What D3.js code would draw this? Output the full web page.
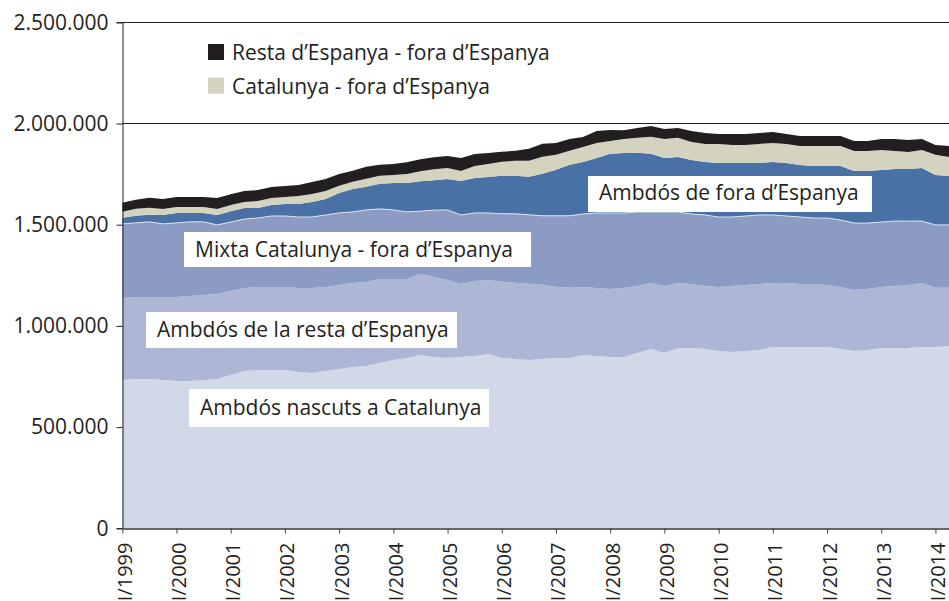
<!DOCTYPE html>
<html>
<head>
<meta charset="utf-8">
<script src="https://cdn.jsdelivr.net/npm/d3@7"></script>
<style>
  body { margin: 0; background: #fff; }
  text { font-family: "Open Sans", sans-serif; fill: #231f20; }
</style>
</head>
<body>
<div id="chart"></div>
<script>
// parelles, en milers, per trimestre (I/1999 - II/2014)
const years = d3.range(1999, 2015);
const quarters = years.flatMap(y => ["I", "II", "III", "IV"].map(q => `${q}/${y}`)).slice(0, 62);
const tickLabels = years.map(y => `I/${y}`);

const keys = ["nascuts", "resta", "mixta", "fora", "catFora", "restaFora"];

const nascuts = [733,738,738,733,728,728,733,738,757,777,782,782,782,772,767,777,787,797,802,817,832,842,856,846,842,846,851,861,842,837,832,837,842,842,856,851,846,846,866,886,866,891,891,886,876,871,876,881,896,896,896,896,896,886,876,881,891,891,891,896,896,901];
const resta = [405,405,405,410,415,420,420,420,415,410,410,410,410,415,420,415,415,415,415,415,400,390,400,395,385,361,371,366,376,376,376,366,351,346,336,336,336,341,331,326,331,321,316,311,316,326,326,326,316,316,311,311,306,306,301,301,301,306,311,316,292,287];
const mixta = [366,366,371,361,366,366,361,341,341,341,341,351,351,351,351,356,356,351,356,346,341,331,311,331,346,341,336,331,336,341,341,341,351,356,361,371,376,371,366,351,366,351,346,351,346,341,341,341,336,331,331,326,331,331,331,326,321,321,316,306,311,311];
const fora = [30,35,35,44,49,44,44,49,54,54,49,54,59,64,74,79,99,114,114,124,133,143,148,148,153,168,173,178,188,188,188,208,227,252,257,272,292,296,292,287,267,272,267,262,267,267,262,257,262,262,257,257,257,267,257,257,257,257,257,262,247,242];
const catFora = [30,35,35,30,30,30,30,30,30,30,35,35,35,40,40,40,35,35,40,40,40,44,49,54,54,49,59,64,69,74,79,84,74,69,74,74,64,69,74,84,94,94,89,89,94,89,89,94,94,94,94,99,99,99,99,99,99,89,84,89,99,94];
const restaFora = [44,44,49,49,49,49,49,54,54,54,54,54,54,54,59,59,59,54,59,54,54,59,59,59,59,64,59,54,49,49,59,64,59,59,49,59,54,44,49,54,49,49,54,54,49,54,54,54,54,49,49,49,49,49,49,49,54,59,59,54,49,54];

const colors = {
  nascuts: "#d1d8e7",
  resta: "#adb7d5",
  mixta: "#8b9bc4",
  fora: "#4a71a5",
  catFora: "#d3d3bf",
  restaFora: "#231f20"
};

const legendItems = [
  { key: "restaFora", label: "Resta d’Espanya - fora d’Espanya" },
  { key: "catFora", label: "Catalunya - fora d’Espanya" }
];

const areaLabels = [
  { text: "Ambdós de fora d’Espanya", x: 599, y: 200, box: [588, 176, 284, 36] },
  { text: "Mixta Catalunya - fora d’Espanya", x: 195, y: 257, box: [184, 232, 347, 35] },
  { text: "Ambdós de la resta d’Espanya", x: 157, y: 337, box: [146, 312, 311, 36] },
  { text: "Ambdós nascuts a Catalunya", x: 200, y: 415, box: [189, 389, 300, 38] }
];

const rows = quarters.map((q, i) => ({
  q,
  nascuts: nascuts[i], resta: resta[i], mixta: mixta[i],
  fora: fora[i], catFora: catFora[i], restaFora: restaFora[i]
}));

const width = 949, height = 601;
const svg = d3.select("#chart").append("svg")
  .attr("width", width)
  .attr("height", height);

const x = d3.scalePoint()
  .domain(quarters)
  .range([122.3, 949]);

const y = d3.scaleLinear()
  .domain([0, 2500])
  .range([528.3, 22.3]);

const fmt = d3.formatLocale({ decimal: ",", thousands: ".", grouping: [3], currency: ["", "€"] }).format(",");

// gridlines
svg.append("g")
  .selectAll("line")
  .data(y.ticks(5))
  .enter()
  .append("line")
  .attr("x1", 122.3)
  .attr("x2", width)
  .attr("y1", d => Math.round(y(d)) + 0.5)
  .attr("y2", d => Math.round(y(d)) + 0.5)
  .attr("stroke", "#231f20")
  .attr("stroke-width", 1);

const series = d3.stack().keys(keys)(rows);

const area = d3.area()
  .x(d => x(d.data.q))
  .y0(d => y(d[0]))
  .y1(d => y(d[1]));

svg.append("g")
  .selectAll("path")
  .data(series)
  .enter()
  .append("path")
  .attr("d", area)
  .attr("fill", d => colors[d.key]);

// thin light line on top of the mixed layer
const mixSeries = series.find(s => s.key === "mixta");
svg.append("path")
  .attr("d", d3.line().x(d => x(d.data.q)).y(d => y(d[1]))(mixSeries))
  .attr("fill", "none")
  .attr("stroke", "#dde3ee")
  .attr("stroke-width", 1);

// y axis
const yAxis = svg.append("g")
  .attr("transform", "translate(122.5,0)")
  .call(d3.axisLeft(y).ticks(5).tickSize(6).tickPadding(8).tickFormat(d => fmt(d * 1000)));
yAxis.select(".domain").attr("stroke", "#231f20");
yAxis.selectAll(".tick line").attr("stroke", "#231f20");
yAxis.selectAll("text")
  .style("font-size", "21px")
  .attr("fill", "#231f20");

// x axis
const xAxis = svg.append("g")
  .attr("transform", "translate(0,528.5)")
  .call(d3.axisBottom(x).tickValues(tickLabels).tickSize(5).tickSizeOuter(0));
xAxis.select(".domain").attr("stroke", "#666").attr("stroke-width", 2);
xAxis.selectAll(".tick line").attr("stroke", "#444");
xAxis.selectAll("text")
  .style("font-size", "20px")
  .attr("fill", "#231f20")
  .attr("text-anchor", "end")
  .attr("transform", "rotate(-90)")
  .attr("x", -14)
  .attr("y", 0)
  .attr("dy", "9px");

// legend
const legend = svg.append("g");
legendItems.forEach((item, i) => {
  legend.append("rect")
    .attr("x", 208)
    .attr("y", 44 + i * 33.7)
    .attr("width", 16)
    .attr("height", 16)
    .attr("fill", colors[item.key]);
  legend.append("text")
    .attr("x", 232)
    .attr("y", 60 + i * 33.7)
    .style("font-size", "21px")
    .text(item.label);
});

// labels on the areas
const lab = svg.append("g");
areaLabels.forEach(l => {
  lab.append("rect")
    .attr("x", l.box[0])
    .attr("y", l.box[1])
    .attr("width", l.box[2])
    .attr("height", l.box[3])
    .attr("fill", "#fff");
  lab.append("text")
    .attr("x", l.x)
    .attr("y", l.y)
    .style("font-size", "21px")
    .text(l.text);
});
</script>
</body>
</html>
